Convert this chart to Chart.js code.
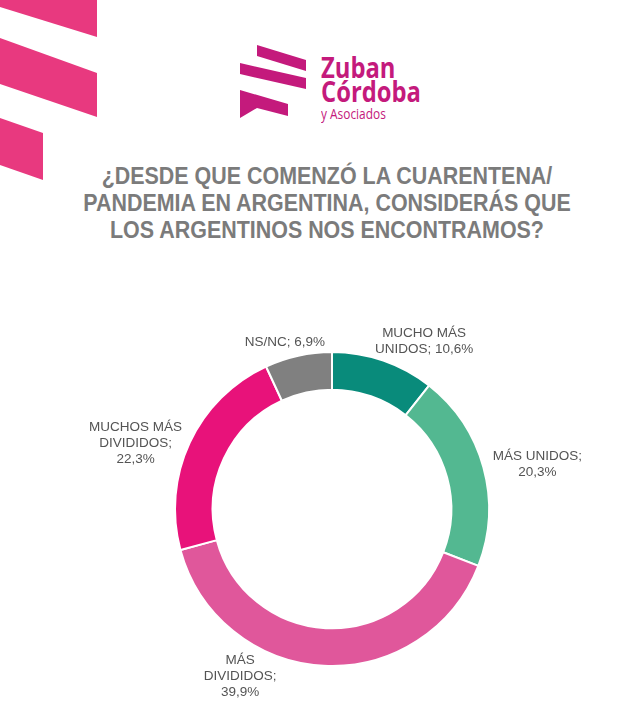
<!DOCTYPE html>
<html>
<head>
<meta charset="utf-8">
<script src="https://cdn.jsdelivr.net/npm/chart.js@4.4.0/dist/chart.umd.min.js"></script>
<style>
  html, body { margin: 0; padding: 0; background: #fff; }
  body { width: 638px; height: 714px; position: relative; overflow: hidden; }
  #deco { position: absolute; left: 0; top: 0; }
  .brand {
    position: absolute; left: 321px; color: #c41a7c; font-family: "Open Sans", sans-serif;
    transform: scaleX(0.85); transform-origin: left center; white-space: nowrap;
  }
  #title {
    position: absolute; left: 0; top: 162px; width: 654px; text-align: center;
    font-family: "Liberation Sans", sans-serif; font-weight: bold;
    font-size: 24.5px; line-height: 27px; color: #7b7b7b;
    transform: scaleX(0.875); transform-origin: 327px 0;
  }
  #wrap { position: absolute; left: 0; top: 300px; width: 638px; height: 414px; }
</style>
</head>
<body>
<svg id="deco" width="638" height="200">
  <g fill="#e8397f">
    <polygon points="0,0 97,0 97,37 0,7"/>
    <polygon points="0,38 97,73 97,117 0,84"/>
    <polygon points="0,118 43,133 43,180 0,165"/>
  </g>
  <g fill="#c41a7c">
    <polygon points="257,45 306,60 306,71 257,56"/>
    <polygon points="240,63 306,78 306,89 240,74"/>
    <polygon points="240,90 288,104 288,116 257,108 240,118"/>
  </g>
</svg>
<div class="brand" style="top:52px;font-size:28px;font-weight:bold;line-height:30px;">Zuban</div>
<div class="brand" style="top:76px;font-size:28px;font-weight:bold;line-height:30px;">Córdoba</div>
<div class="brand" style="top:106px;font-size:14px;line-height:16px;">y Asociados</div>
<div id="title">¿DESDE QUE COMENZÓ LA CUARENTENA/<br>PANDEMIA EN ARGENTINA, CONSIDERÁS QUE<br>LOS ARGENTINOS NOS ENCONTRAMOS?</div>
<div id="wrap"><canvas id="dona"></canvas></div>
<script>
var categorias = [
  ['MUCHO MÁS', 'UNIDOS;'],
  ['MÁS UNIDOS;'],
  ['MÁS', 'DIVIDIDOS;'],
  ['MUCHOS MÁS', 'DIVIDIDOS;'],
  ['NS/NC;']
];
var valores = [10.6, 20.3, 39.9, 22.3, 6.9];
var colores = ['#098b7b', '#53b891', '#e0579b', '#e8127a', '#808080'];

// where each label sits, relative to a point just outside its slice
var empuje = [
  {dx: 31, dy: 9, join: true},
  {dx: 25, dy: 5, join: false},
  {dx: -82, dy: -19, join: false},
  {dx: -27, dy: 13, join: false},
  {dx: -7, dy: 16, join: true}
];

function pct(v) {
  return v.toFixed(1).replace('.', ',') + '%';
}

var etiquetas = {
  id: 'etiquetas',
  afterDatasetsDraw: function (chart) {
    var c = chart.ctx;
    var arcs = chart.getDatasetMeta(0).data;
    c.save();
    c.font = '13.5px "Liberation Sans", sans-serif';
    c.fillStyle = '#545454';
    c.textAlign = 'center';
    c.textBaseline = 'middle';
    arcs.forEach(function (arc, i) {
      var p = arc.getProps(['x', 'y', 'startAngle', 'endAngle', 'outerRadius'], true);
      var mid = (p.startAngle + p.endAngle) / 2;
      var r = p.outerRadius + 30;
      var x = p.x + Math.cos(mid) * r + empuje[i].dx;
      var y = p.y + Math.sin(mid) * r + empuje[i].dy;
      var lineas = categorias[i].slice();
      if (empuje[i].join) {
        lineas[lineas.length - 1] += ' ' + pct(valores[i]);
      } else {
        lineas.push(pct(valores[i]));
      }
      var alto = 16;
      var y0 = y - (lineas.length - 1) * alto / 2;
      lineas.forEach(function (t, k) {
        c.fillText(t, x, y0 + k * alto);
      });
    });
    c.restore();
  }
};

new Chart(document.getElementById('dona'), {
  type: 'doughnut',
  data: {
    labels: categorias.map(function (l) { return l.join(' '); }),
    datasets: [{
      data: valores,
      backgroundColor: colores,
      borderColor: '#ffffff',
      borderWidth: 2
    }]
  },
  options: {
    responsive: true,
    maintainAspectRatio: false,
    animation: false,
    cutout: '76%',
    layout: { padding: { left: 113, right: 87, top: 51, bottom: 47 } },
    plugins: {
      legend: { display: false },
      tooltip: { enabled: false }
    }
  },
  plugins: [etiquetas]
});
</script>
</body>
</html>
